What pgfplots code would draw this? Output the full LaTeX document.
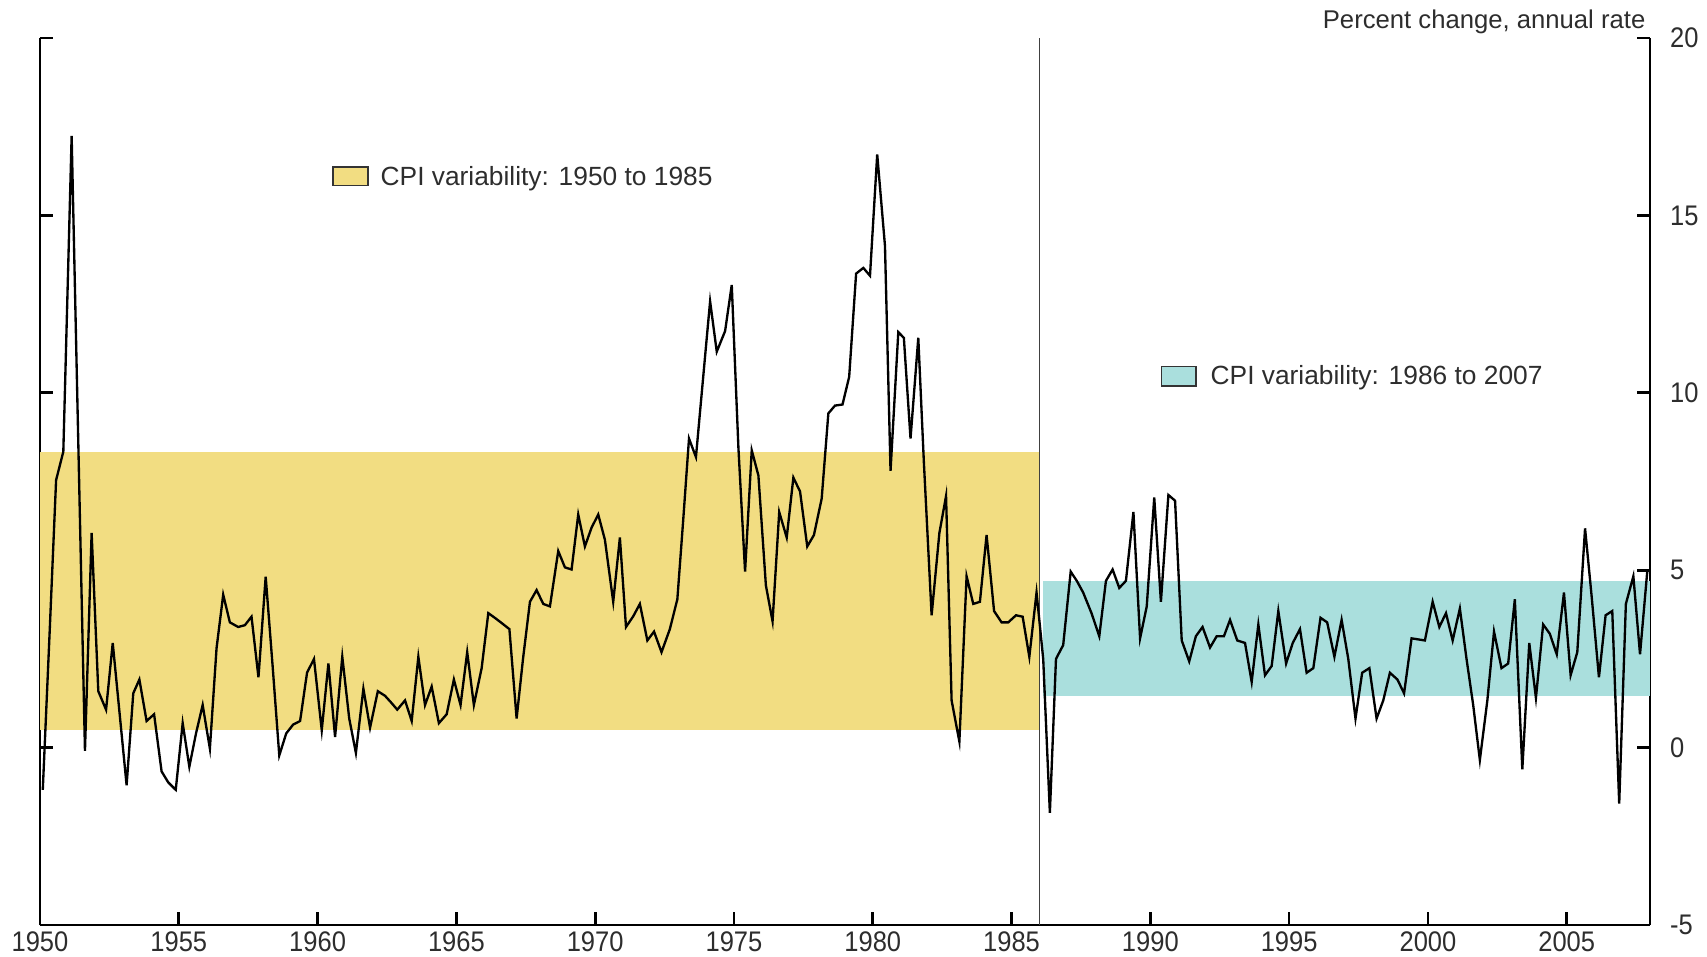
\documentclass[border=0pt]{standalone}
\usepackage{fontspec}
\setmainfont{Liberation Sans}
\newfontfamily\tickfont[FakeStretch=0.9]{Liberation Sans}
\usepackage{pgfplots}
\pgfplotsset{compat=1.18}

\definecolor{bandyellow}{RGB}{242,221,130}
\definecolor{bandteal}{RGB}{170,223,221}
\definecolor{textgray}{RGB}{45,45,45}

% quarterly CPI, percent change at annual rate
\pgfplotstableread{
x y
1950.10 -1.19
1950.35 3.30
1950.58 7.54
1950.84 8.34
1951.14 17.24
1951.62 -0.09
1951.86 6.05
1952.10 1.59
1952.38 1.07
1952.62 2.95
1953.12 -1.06
1953.36 1.53
1953.58 1.92
1953.84 0.75
1954.11 0.94
1954.38 -0.67
1954.62 -0.98
1954.89 -1.19
1955.14 0.69
1955.38 -0.54
1955.62 0.40
1955.86 1.20
1956.12 -0.03
1956.36 2.80
1956.60 4.31
1956.84 3.53
1957.14 3.40
1957.38 3.45
1957.62 3.69
1957.87 1.98
1958.13 4.82
1958.38 2.30
1958.62 -0.22
1958.87 0.40
1959.12 0.65
1959.37 0.75
1959.62 2.11
1959.87 2.50
1960.15 0.49
1960.39 2.37
1960.63 0.30
1960.89 2.56
1961.14 0.82
1961.38 -0.15
1961.65 1.66
1961.89 0.56
1962.17 1.59
1962.43 1.46
1962.65 1.27
1962.87 1.07
1963.15 1.33
1963.39 0.75
1963.63 2.56
1963.87 1.20
1964.11 1.72
1964.37 0.69
1964.65 0.94
1964.91 1.92
1965.15 1.20
1965.39 2.69
1965.63 1.20
1965.91 2.24
1966.15 3.79
1966.40 3.65
1966.65 3.50
1966.91 3.34
1967.17 0.82
1967.40 2.50
1967.65 4.11
1967.89 4.44
1968.13 4.05
1968.37 3.98
1968.67 5.54
1968.91 5.08
1969.15 5.02
1969.39 6.57
1969.63 5.67
1969.87 6.20
1970.11 6.57
1970.35 5.86
1970.65 4.11
1970.89 5.92
1971.11 3.40
1971.37 3.70
1971.61 4.05
1971.88 3.02
1972.12 3.27
1972.39 2.69
1972.69 3.34
1972.96 4.18
1973.17 6.40
1973.38 8.71
1973.63 8.19
1973.87 10.26
1974.14 12.58
1974.38 11.16
1974.68 11.74
1974.92 13.04
1975.16 8.45
1975.40 4.96
1975.64 8.38
1975.88 7.67
1976.15 4.57
1976.39 3.56
1976.63 6.64
1976.90 5.92
1977.14 7.61
1977.38 7.22
1977.64 5.67
1977.88 5.99
1978.16 7.02
1978.40 9.42
1978.64 9.64
1978.91 9.67
1979.15 10.45
1979.40 13.36
1979.66 13.52
1979.90 13.30
1980.16 16.72
1980.44 14.14
1980.64 7.80
1980.92 11.71
1981.12 11.55
1981.36 8.71
1981.64 11.55
1981.84 8.06
1982.12 3.73
1982.40 6.05
1982.64 7.09
1982.84 1.33
1983.12 0.17
1983.38 4.83
1983.62 4.05
1983.86 4.11
1984.10 5.99
1984.37 3.85
1984.64 3.53
1984.88 3.53
1985.16 3.73
1985.40 3.69
1985.64 2.56
1985.90 4.37
1986.14 2.50
1986.38 -1.84
1986.60 2.50
1986.86 2.89
1987.13 4.96
1987.35 4.70
1987.58 4.37
1987.88 3.79
1988.16 3.14
1988.40 4.70
1988.64 5.02
1988.88 4.50
1989.12 4.70
1989.39 6.64
1989.63 3.08
1989.87 3.98
1990.14 7.05
1990.38 4.11
1990.65 7.12
1990.89 6.96
1991.13 3.02
1991.40 2.43
1991.64 3.14
1991.88 3.40
1992.15 2.82
1992.39 3.14
1992.65 3.14
1992.87 3.60
1993.13 3.02
1993.41 2.95
1993.65 1.85
1993.89 3.47
1994.13 2.04
1994.37 2.30
1994.61 3.85
1994.89 2.37
1995.13 2.95
1995.39 3.34
1995.63 2.11
1995.87 2.24
1996.13 3.66
1996.37 3.53
1996.63 2.56
1996.89 3.60
1997.13 2.50
1997.39 0.82
1997.63 2.11
1997.89 2.24
1998.15 0.82
1998.39 1.33
1998.63 2.11
1998.90 1.92
1999.14 1.53
1999.41 3.08
1999.65 3.05
1999.89 3.02
2000.17 4.11
2000.41 3.40
2000.65 3.79
2000.89 3.02
2001.15 3.92
2001.39 2.50
2001.63 1.20
2001.87 -0.35
2002.14 1.33
2002.38 3.27
2002.65 2.24
2002.89 2.37
2003.13 4.18
2003.40 -0.61
2003.65 2.95
2003.89 1.40
2004.15 3.47
2004.39 3.21
2004.64 2.63
2004.90 4.37
2005.14 2.04
2005.38 2.69
2005.66 6.18
2005.90 4.24
2006.16 1.98
2006.40 3.73
2006.64 3.85
2006.89 -1.58
2007.13 4.05
2007.40 4.83
2007.64 2.63
2007.90 4.96
}\cpidata

\begin{document}
\begin{tikzpicture}
\begin{axis}[
  scale only axis,
  width=483pt, height=266.1pt,
  xmin=1950, xmax=2008,
  ymin=-5, ymax=20,
  axis x line=bottom,
  axis y line=box,
  axis line style={-, line width=0.8pt, black},
  xtick={1950,1955,...,2005},
  ytick={-5,0,...,20},
  yticklabel pos=right,
  tick align=inside,
  major tick length=4pt,
  tick style={line width=0.8pt, black},
  /pgf/number format/assume math mode=true,
  ticklabel style={font=\tickfont\fontsize{8.5}{10}\selectfont, text=textgray},
  xticklabel style={/pgf/number format/1000 sep={}, yshift=1.5pt},
  yticklabel style={xshift=2.5pt},
  clip=false,
]
% variability bands
\addplot [draw=none, fill=bandyellow] coordinates {(1950,0.5) (1986,0.5) (1986,8.34) (1950,8.34)} -- cycle;
\addplot [draw=none, fill=bandteal] coordinates {(1986.13,1.46) (2008,1.46) (2008,4.69) (1986.13,4.69)} -- cycle;
% break at 1986
\addplot [line width=0.4pt, color=black!75] coordinates {(1986,-5) (1986,20)};
% CPI
\addplot [line width=0.7pt, black] table [x=x, y=y] {\cpidata};

% legend keys
\draw [line width=0.4pt, black!80, fill=bandyellow] (axis cs:1960.55,15.85) rectangle (axis cs:1961.82,16.36);
\node [anchor=base west, inner sep=0pt, text=textgray, font=\fontsize{7.9}{9}\selectfont] at (axis cs:1962.25,15.85) {CPI variability: 1950 to 1985};
\draw [line width=0.4pt, black!80, fill=bandteal] (axis cs:1990.41,10.19) rectangle (axis cs:1991.64,10.75);
\node [anchor=base west, inner sep=0pt, text=textgray, font=\fontsize{7.9}{9}\selectfont] at (axis cs:1992.15,10.24) {CPI variability: 1986 to 2007};

\node [anchor=base east, inner sep=0pt, text=textgray, font=\fontsize{7.7}{9}\selectfont] at (rel axis cs:1,1) [xshift=-1.2pt, yshift=2.9pt] {Percent change, annual rate};

\coordinate (bl) at (rel axis cs:0,0);
\coordinate (tr) at (rel axis cs:1,1);
\end{axis}
\pgfresetboundingbox
\path (bl) +(-12pt,-9.5pt) (tr) +(17.1pt,11.4pt);
\end{tikzpicture}
\end{document}
